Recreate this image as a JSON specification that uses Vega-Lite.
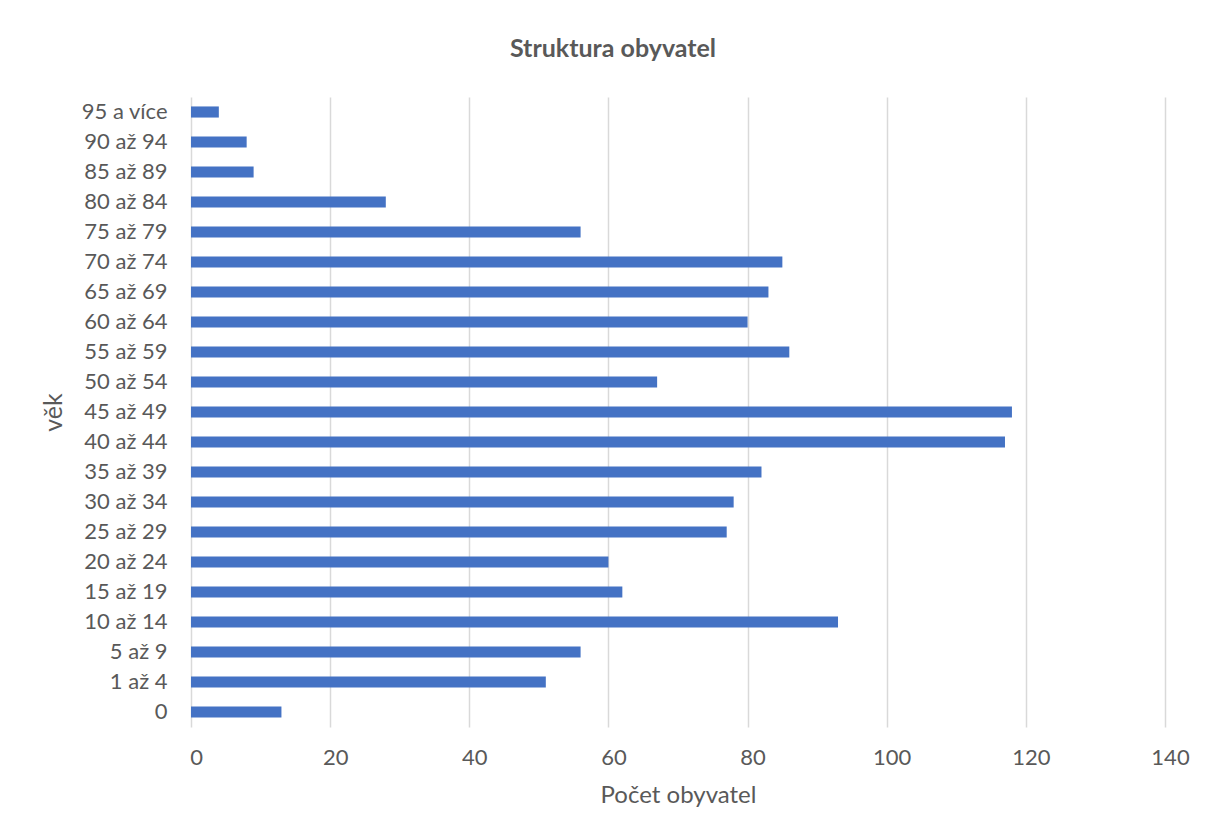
{
  "$schema": "https://vega.github.io/schema/vega-lite/v6.json",
  "autosize": {"type": "none"},
  "width": 974,
  "height": 630,
  "padding": {"left": 191, "top": 97, "right": 41, "bottom": 111},
  "background": "white",
  "title": {
    "text": "Struktura obyvatel",
    "font": "Lato",
    "fontSize": 25,
    "fontWeight": "bold",
    "color": "#595959",
    "anchor": "middle",
    "frame": "group",
    "dx": -65,
    "offset": 35
  },
  "data": {
    "values": [
      {"vek": "95 a více", "pocet": 4},
      {"vek": "90 až 94", "pocet": 8},
      {"vek": "85 až 89", "pocet": 9},
      {"vek": "80 až 84", "pocet": 28},
      {"vek": "75 až 79", "pocet": 56},
      {"vek": "70 až 74", "pocet": 85},
      {"vek": "65 až 69", "pocet": 83},
      {"vek": "60 až 64", "pocet": 80},
      {"vek": "55 až 59", "pocet": 86},
      {"vek": "50 až 54", "pocet": 67},
      {"vek": "45 až 49", "pocet": 118},
      {"vek": "40 až 44", "pocet": 117},
      {"vek": "35 až 39", "pocet": 82},
      {"vek": "30 až 34", "pocet": 78},
      {"vek": "25 až 29", "pocet": 77},
      {"vek": "20 až 24", "pocet": 60},
      {"vek": "15 až 19", "pocet": 62},
      {"vek": "10 až 14", "pocet": 93},
      {"vek": "5 až 9", "pocet": 56},
      {"vek": "1 až 4", "pocet": 51},
      {"vek": "0", "pocet": 13}
    ]
  },
  "mark": {"type": "bar", "color": "#4472C4"},
  "encoding": {
    "y": {
      "field": "vek",
      "type": "nominal",
      "sort": null,
      "scale": {"paddingInner": 0.63, "paddingOuter": 0.315},
      "axis": {
        "title": "věk",
        "titleFont": "Lato",
        "titleFontSize": 25,
        "titleFontWeight": "normal",
        "titleColor": "#595959",
        "titlePadding": 14,
        "labelFont": "Lato",
        "labelFontSize": 22,
        "labelColor": "#595959",
        "labelPadding": 24,
        "ticks": false,
        "domain": false,
        "grid": false
      }
    },
    "x": {
      "field": "pocet",
      "type": "quantitative",
      "scale": {"domain": [0, 140], "nice": false},
      "axis": {
        "title": "Počet obyvatel",
        "titleFont": "Lato",
        "titleFontSize": 24,
        "titleFontWeight": "normal",
        "titleColor": "#595959",
        "titlePadding": 15,
        "values": [0, 20, 40, 60, 80, 100, 120, 140],
        "labelFont": "Lato",
        "labelFontSize": 22,
        "labelColor": "#595959",
        "labelPadding": 20,
        "labelOffset": 5,
        "labelFlush": false,
        "ticks": false,
        "domain": false,
        "grid": true,
        "gridColor": "#D9D9D9",
        "gridWidth": 1.5
      }
    }
  },
  "config": {"view": {"stroke": null}}
}
